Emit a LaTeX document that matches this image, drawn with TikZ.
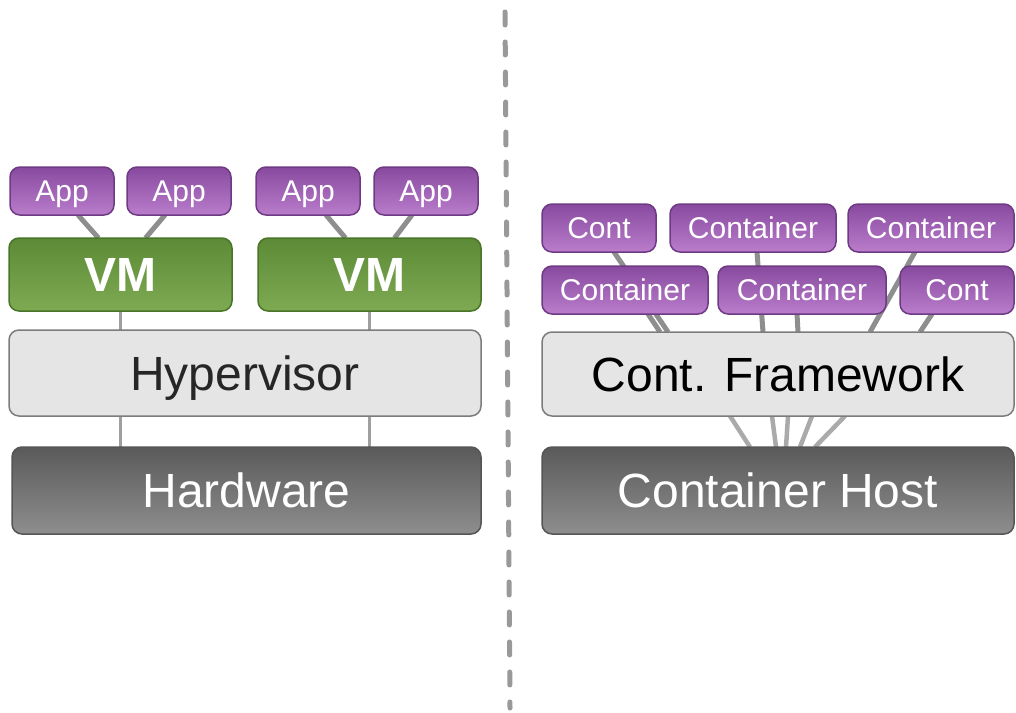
\documentclass[tikz,border=0pt]{standalone}
\usepackage{fontspec}
\setmainfont{Liberation Sans}
\usetikzlibrary{backgrounds}
\definecolor{purpT}{HTML}{884A9E}
\definecolor{purpB}{HTML}{B97DCC}
\definecolor{purpD}{HTML}{6E3A84}
\definecolor{greenT}{HTML}{5C8A36}
\definecolor{greenB}{HTML}{7EAA52}
\definecolor{greenD}{HTML}{4A742A}
\definecolor{hypF}{HTML}{E5E5E5}
\definecolor{hypD}{HTML}{7C7C7C}
\definecolor{hwT}{HTML}{5A5A5A}
\definecolor{hwB}{HTML}{8E8E8E}
\definecolor{hwD}{HTML}{555555}
\definecolor{conn}{HTML}{8E8E8E}
\definecolor{connL}{HTML}{AAAAAA}
\tikzset{
  box/.style={rounded corners=10pt, inner sep=0pt, outer sep=0pt, line width=1.5pt,
    text depth=0pt},
  appbox/.style={box, draw=purpD, top color=purpT, bottom color=purpB, text=white,
    minimum height=48pt, font=\fontsize{30}{30}\selectfont, text height=21.5pt},
  vmbox/.style={box, draw=greenD, top color=greenT, bottom color=greenB, text=white,
    minimum width=223pt, minimum height=73pt, font=\fontsize{48}{48}\selectfont\bfseries,
    text height=34.4pt},
  midbox/.style={box, draw=hypD, fill=hypF, minimum width=472pt,
    font=\fontsize{48}{48}\selectfont, text height=34.4pt},
  hwbox/.style={box, draw=hwD, top color=hwT, bottom color=hwB, text=white,
    minimum height=87pt, font=\fontsize{48}{48}\selectfont, text height=34.4pt},
  link/.style={draw=conn, line width=5pt},
  vlink/.style={draw=conn!85, line width=3.5pt},
  flink/.style={draw=connL, line width=4.5pt},
  divider/.style={draw=conn!90, line width=5pt, line cap=round, dash pattern=on 13pt off 17pt}
}
\begin{document}
\begin{tikzpicture}[x=1pt,y=-1pt]
\useasboundingbox (0,0) rectangle (1016,712);
% left
\node[appbox, minimum width=104pt] (app1) at (62,191) {App};
\node[appbox, minimum width=104pt] (app2) at (179,191) {App};
\node[appbox, minimum width=104pt] (app3) at (308,191) {App};
\node[appbox, minimum width=104pt] (app4) at (426,191) {App};
\node[vmbox] (vm1) at (120.5,274.5) {VM};
\node[vmbox] (vm2) at (369.5,274.5) {VM};
\node[midbox, minimum height=86pt, text=black!85] (hyp) at (245,373) {Hypervisor};
\node[hwbox, minimum width=469pt] (hw) at (246.5,490.5) {Hardware};
% right
\node[appbox, minimum width=114pt] (c1) at (599,228) {Cont};
\node[appbox, minimum width=166pt] (c2) at (753,228) {Container};
\node[appbox, minimum width=166pt] (c3) at (931,228) {Container};
\node[appbox, minimum width=166pt] (c4) at (625,290) {Container};
\node[appbox, minimum width=168pt] (c5) at (802,290) {Container};
\node[appbox, minimum width=114pt] (c6) at (957,290) {Cont};
\node[midbox, minimum height=84pt, text=black] (fw) at (778,374) {Cont. Framework};
\node[hwbox, minimum width=472pt] (host) at (778,490.5) {Container Host};
\begin{pgfonlayer}{background}
  \draw[link] ([xshift=16pt]app1.south) -- ([xshift=-22pt]vm1.north);
  \draw[link] ([xshift=-14pt]app2.south) -- ([xshift=25pt]vm1.north);
  \draw[link] ([xshift=18pt]app3.south) -- ([xshift=-24pt]vm2.north);
  \draw[link] ([xshift=-14pt]app4.south) -- ([xshift=25pt]vm2.north);
  \draw[vlink] (vm1.south) -- (vm1.south |- hyp.north);
  \draw[vlink] (vm2.south) -- (vm2.south |- hyp.north);
  \draw[vlink] (vm1.south |- hyp.south) -- (vm1.south |- hw.north);
  \draw[vlink] (vm2.south |- hyp.south) -- (vm2.south |- hw.north);
  % containers to framework
  \draw[link] ([xshift=15pt]c1.south) -- ([xshift=-110pt]fw.north);
  \draw[link] ([xshift=23pt]c4.south) -- ([xshift=-118pt]fw.north);
  \draw[link] ([xshift=4pt]c2.south) -- ([xshift=-15pt]fw.north);
  \draw[link] ([xshift=-5pt]c5.south) -- ([xshift=20pt]fw.north);
  \draw[link] ([xshift=-16pt]c3.south) -- ([xshift=92pt]fw.north);
  \draw[link] ([xshift=-25pt]c6.south) -- ([xshift=142pt]fw.north);
  % framework to host
  \draw[flink] ([xshift=-48pt]fw.south) -- ([xshift=-28pt]host.north);
  \draw[flink] ([xshift=-6pt]fw.south) -- ([xshift=-2pt]host.north);
  \draw[flink] ([xshift=10pt]fw.south) -- ([xshift=8pt]host.north);
  \draw[flink] ([xshift=34pt]fw.south) -- ([xshift=22pt]host.north);
  \draw[flink] ([xshift=67pt]fw.south) -- ([xshift=37pt]host.north);
\end{pgfonlayer}
% divider
\coordinate (dtop) at (505,12);
\coordinate (dbot) at (510,708);
\draw[divider] (dtop) -- (dbot);
\end{tikzpicture}
\end{document}
